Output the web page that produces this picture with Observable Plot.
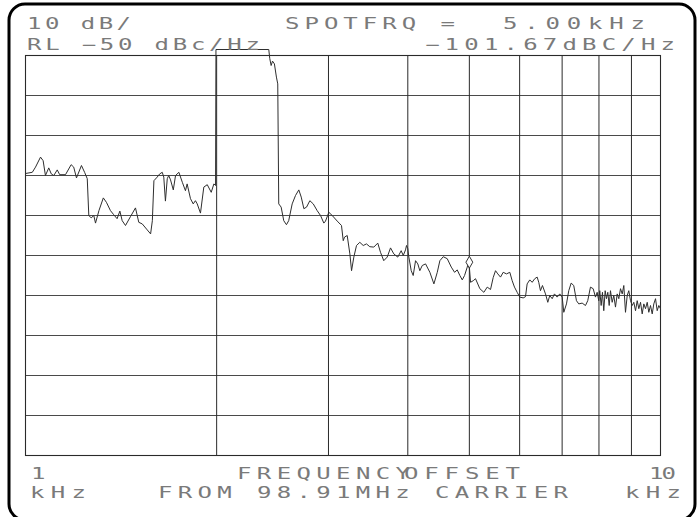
<!DOCTYPE html>
<html>
<head>
<meta charset="utf-8">
<script src="https://cdn.jsdelivr.net/npm/d3@7"></script>
<script src="https://cdn.jsdelivr.net/npm/@observablehq/plot@0.6"></script>
<style>
  html, body { margin: 0; padding: 0; background: #fff; }
  #chart { width: 698px; height: 517px; }
</style>
</head>
<body>
<div id="chart"></div>
<script>
// ---- data (frequency offset in kHz, phase noise in dBc/Hz) ----
const freqKHz = [
  1.000,1.025,1.037,1.056,1.066,1.075,1.088,1.098,1.108,1.122,1.132,1.156,1.180,1.191,1.203,1.225,1.239,1.251,
  1.258,1.269,1.281,1.289,1.305,1.326,1.341,1.361,1.377,1.394,1.408,1.420,1.437,1.463,1.490,1.508,1.527,1.555,1.574,1.584,
  1.593,1.612,1.627,1.642,1.651,1.661,1.672,1.681,1.692,1.709,1.723,1.744,1.766,1.786,1.797,1.819,1.837,1.852,1.864,1.886,
  1.909,1.933,1.961,1.980,1.992,1.995,2.416,2.425,2.437,2.449,2.466,2.484,2.496,
  2.505,2.527,2.551,2.576,2.597,2.630,2.662,2.694,2.718,2.744,2.771,2.804,2.839,2.880,2.915,2.950,2.968,3.004,3.041,3.097,
  3.145,3.165,3.180,3.211,3.242,3.262,3.289,3.321,3.361,3.403,3.443,3.485,3.536,3.587,3.623,3.666,3.712,3.757,3.802,3.857,
  3.905,3.934,3.967,3.981,4.000,4.015,4.050,4.079,4.114,4.148,4.178,4.215,4.266,4.333,4.397,4.451,4.493,4.549,4.615,4.683,
  4.739,4.785,4.831,4.873,4.914,4.962,4.991,5.022,5.071,5.113,5.194,5.270,5.335,5.399,5.452,5.498,5.544,5.598,5.653,5.721,
  5.790,5.840,5.889,5.947,6.003,6.078,6.129,6.166,6.225,6.279,6.338,6.394,6.431,6.471,6.518,6.590,6.645,6.693,6.752,6.808,
  6.875,6.940,7.001,7.042,7.111,7.170,7.233,7.301,7.373,7.435,7.527,7.618,7.681,7.757,7.834,7.899,7.948,7.994,8.023,8.064,
  8.102,8.141,8.182,8.221,8.260,8.302,8.341,8.393,8.442,8.494,8.547,8.597,8.650,8.704,8.754,8.808,8.863,8.914,8.970,9.025,
  9.078,9.134,9.190,9.244,9.301,9.358,9.413,9.471,9.530,9.585,9.644,9.704,9.760,9.821,9.881,9.938,10.000
];
const levelDbc = [
  -79.5,-79.2,-77.9,-75.4,-76.3,-80.0,-78.1,-79.6,-80.0,-78.6,-79.8,-79.8,-77.3,-77.9,-80.6,-77.5,-79.2,-80.8,
  -90.0,-90.6,-90.0,-91.9,-88.8,-85.6,-86.7,-88.8,-89.8,-90.8,-88.9,-91.3,-92.5,-90.3,-88.1,-91.7,-92.1,-93.6,-94.6,-91.3,
  -81.3,-80.4,-79.6,-79.2,-80.4,-86.4,-80.8,-80.0,-81.1,-83.6,-80.0,-79.2,-81.7,-83.8,-82.1,-85.8,-87.1,-86.3,-87.1,-89.4,
  -82.9,-82.3,-84.2,-82.1,-82.5,-48.5,-48.5,-50.8,-52.5,-51.4,-52.1,-55.4,-57.1,
  -87.1,-87.9,-91.3,-92.3,-91.3,-87.1,-85.0,-83.6,-85.4,-88.3,-87.9,-86.3,-87.1,-88.8,-90.0,-91.9,-91.4,-89.2,-90.0,-91.4,
  -92.5,-96.3,-95.4,-95.0,-99.6,-103.8,-100.4,-97.5,-96.7,-97.5,-97.1,-97.8,-97.9,-96.9,-99.2,-101.3,-100.4,-98.1,-99.6,-100.4,
  -98.8,-100.0,-98.6,-97.5,-98.3,-100.4,-103.8,-105.0,-101.3,-102.1,-103.8,-102.5,-102.1,-104.2,-107.1,-104.2,-101.3,-100.3,-100.8,-102.9,
  -104.2,-103.6,-105.0,-106.1,-105.0,-102.9,-101.3,-106.7,-106.3,-105.8,-108.3,-109.2,-107.9,-108.5,-105.5,-103.8,-104.6,-105.4,-104.2,-104.6,
  -104.2,-106.3,-107.9,-109.2,-110.4,-110.6,-110.3,-107.1,-106.1,-106.7,-105.8,-105.4,-106.7,-108.8,-107.5,-109.6,-111.7,-110.0,-110.8,-109.6,
  -110.4,-109.6,-110.4,-114.2,-112.1,-108.8,-106.9,-107.5,-111.3,-112.1,-111.9,-112.5,-111.3,-107.9,-108.3,-110.4,-109.2,-111.3,-108.8,-112.5,
  -109.2,-113.8,-108.8,-110.8,-109.2,-112.5,-108.8,-111.7,-110.0,-112.9,-109.6,-110.8,-108.3,-109.6,-107.5,-114.2,-110.0,-108.8,-111.3,-112.5,
  -111.7,-113.8,-111.3,-113.3,-111.7,-114.6,-112.1,-113.3,-111.7,-114.2,-112.5,-114.6,-112.1,-110.8,-113.8,-112.5,-113.3
];
const gridFreqs = [2, 3, 4, 5, 6, 7, 8, 9];
const gridLevels = [-60, -70, -80, -90, -100, -110, -120, -130, -140];
const markerFreq = [5.00];
const markerLevel = [-101.67];

// header / footer texts: [text, left x, right x, baseline]
const headerTexts = [
  ["10 dB/", 27, 131, 29],
  ["RL −50 dBc/Hz", 27, 260, 50],
  ["SPOTFRQ =", 285, 455, 29],
  ["5.00kHz", 503, 645, 29],
  ["−101.67dBC/Hz", 425, 675, 50]
];
const footerTexts = [
  ["1", 31, 40, 479],
  ["FREQUENCY", 237, 410, 479],
  ["OFFSET", 404, 520, 479],
  ["10", 649, 676, 479],
  ["kHz", 30, 86, 498],
  ["FROM 98.91MHz CARRIER", 158, 568, 498],
  ["kHz", 625, 681, 498]
];

const trace = freqKHz.map((f, i) => ({f, db: levelDbc[i]}));
const marker = markerFreq.map((f, i) => ({f, db: markerLevel[i]}));

const plot = Plot.plot({
  width: 698,
  height: 517,
  marginLeft: 25,
  marginRight: 38,
  marginTop: 55,
  marginBottom: 62,
  style: {background: "white", overflow: "visible"},
  x: {type: "log", domain: [1, 10], axis: null},
  y: {domain: [-150, -50], axis: null},
  marks: [
    Plot.ruleY(gridLevels, {stroke: "#4a4a4a", strokeWidth: 1.1}),
    Plot.ruleX(gridFreqs, {stroke: "#2a2a2a", strokeWidth: 1}),
    Plot.frame({stroke: "#2a2a2a", strokeWidth: 1.1}),
    Plot.line(trace, {x: "f", y: "db", stroke: "#2e2e2e", strokeWidth: 1, curve: "linear"}),
    Plot.dot(marker, {x: "f", y: "db", symbol: "diamond", r: 3.6, stroke: "#333", strokeWidth: 1, fill: "white"})
  ]
});

document.getElementById("chart").appendChild(plot);

const svg = d3.select(plot);
// outer rounded plotter frame
svg.append("rect")
  .attr("x", 9).attr("y", 4).attr("width", 686).attr("height", 516)
  .attr("rx", 16).attr("ry", 16)
  .attr("fill", "none").attr("stroke", "#000").attr("stroke-width", 3);

const sx = 1.6;
function addLabel([str, x0, x1, base]) {
  const g = svg.append("g")
    .attr("transform", `translate(${x0},${base}) scale(${sx},1)`)
    .attr("text-anchor", "start");
  const t = g.append("text")
    .attr("x", 0).attr("y", 0)
    .attr("text-anchor", "start")
    .attr("font-family", "'DejaVu Sans Mono', 'Liberation Mono', monospace")
    .attr("font-size", 15)
    .attr("font-weight", "normal")
    .attr("fill", "#7a7a7a")
    .style("white-space", "pre")
    .text(str);
  if (str.length > 1) {
    t.attr("textLength", (x1 - x0) / sx).attr("lengthAdjust", "spacing");
  }
}
headerTexts.forEach(addLabel);
footerTexts.forEach(addLabel);
</script>
</body>
</html>
